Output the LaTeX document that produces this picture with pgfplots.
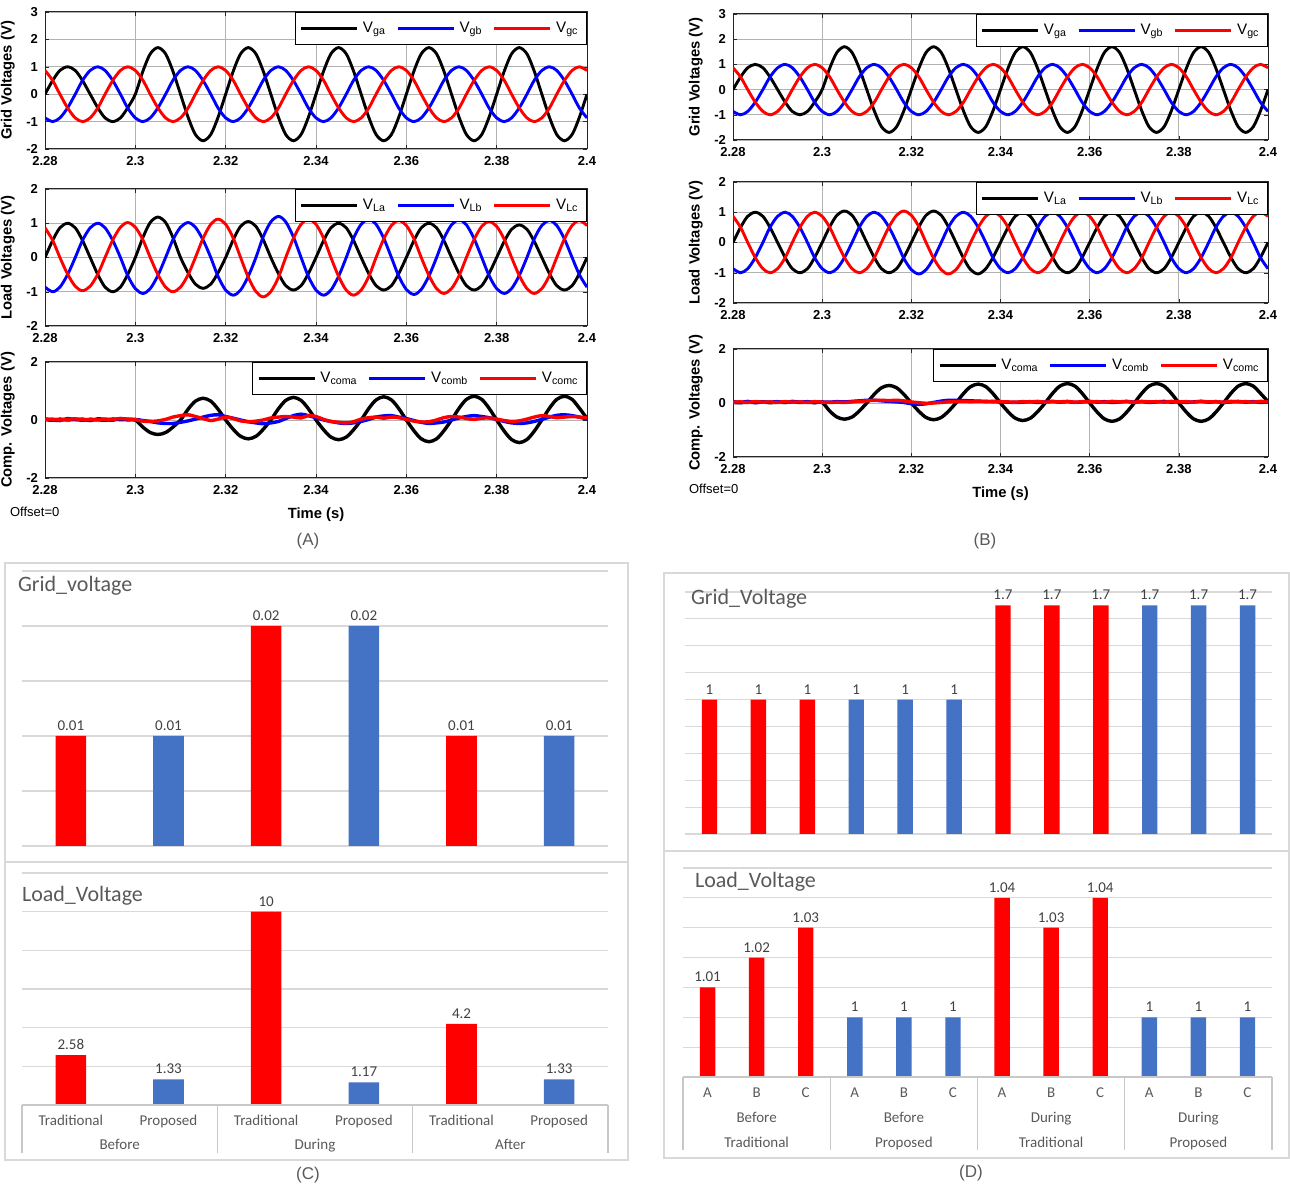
\documentclass[border=0pt]{standalone}
\usepackage{fontspec}
\setmainfont{Liberation Sans}
\newfontfamily\calib{Carlito}
\usepackage{pgfplots}
\usepackage{pgfplotstable}
\pgfplotsset{compat=1.18}
\usetikzlibrary{calc}

\definecolor{xlblue}{RGB}{68,114,196}
\definecolor{xlgray}{RGB}{89,89,89}
\definecolor{xlgrid}{RGB}{217,217,217}
\definecolor{xlline}{RGB}{200,200,200}
\definecolor{mblue}{RGB}{0,0,255}
\definecolor{mred}{RGB}{255,0,0}

\pgfplotstableread{
t a b c
2.2800 0 -0.866 0.866
2.2817 0.5 -1 0.5
2.2833 0.866 -0.866 0
2.2850 1 -0.5 -0.5
2.2867 0.866 0 -0.866
2.2883 0.5 0.5 -1
2.2900 0 0.866 -0.866
2.2917 -0.5 1 -0.5
2.2933 -0.866 0.866 0
2.2950 -1 0.5 0.5
2.2967 -0.866 0 0.866
2.2983 -0.5 -0.5 1
2.3000 0 -0.866 0.866
2.3017 0.85 -1 0.5
2.3033 1.472 -0.866 0
2.3050 1.7 -0.5 -0.5
2.3067 1.472 0 -0.866
2.3083 0.85 0.5 -1
2.3100 0 0.866 -0.866
2.3117 -0.85 1 -0.5
2.3133 -1.472 0.866 0
2.3150 -1.7 0.5 0.5
2.3167 -1.472 0 0.866
2.3183 -0.85 -0.5 1
2.3200 0 -0.866 0.866
2.3217 0.85 -1 0.5
2.3233 1.472 -0.866 0
2.3250 1.7 -0.5 -0.5
2.3267 1.472 0 -0.866
2.3283 0.85 0.5 -1
2.3300 0 0.866 -0.866
2.3317 -0.85 1 -0.5
2.3333 -1.472 0.866 0
2.3350 -1.7 0.5 0.5
2.3367 -1.472 0 0.866
2.3383 -0.85 -0.5 1
2.3400 0 -0.866 0.866
2.3417 0.85 -1 0.5
2.3433 1.472 -0.866 0
2.3450 1.7 -0.5 -0.5
2.3467 1.472 0 -0.866
2.3483 0.85 0.5 -1
2.3500 0 0.866 -0.866
2.3517 -0.85 1 -0.5
2.3533 -1.472 0.866 0
2.3550 -1.7 0.5 0.5
2.3567 -1.472 0 0.866
2.3583 -0.85 -0.5 1
2.3600 0 -0.866 0.866
2.3617 0.85 -1 0.5
2.3633 1.472 -0.866 0
2.3650 1.7 -0.5 -0.5
2.3667 1.472 0 -0.866
2.3683 0.85 0.5 -1
2.3700 0 0.866 -0.866
2.3717 -0.85 1 -0.5
2.3733 -1.472 0.866 0
2.3750 -1.7 0.5 0.5
2.3767 -1.472 0 0.866
2.3783 -0.85 -0.5 1
2.3800 0 -0.866 0.866
2.3817 0.85 -1 0.5
2.3833 1.472 -0.866 0
2.3850 1.7 -0.5 -0.5
2.3867 1.472 0 -0.866
2.3883 0.85 0.5 -1
2.3900 0 0.866 -0.866
2.3917 -0.85 1 -0.5
2.3933 -1.472 0.866 0
2.3950 -1.7 0.5 0.5
2.3967 -1.472 0 0.866
2.3983 -0.85 -0.5 1
2.4000 0 -0.866 0.866
}\gridtab

\pgfplotstableread{
t a b c
2.2800 0 -0.866 0.866
2.2817 0.5 -1 0.5
2.2833 0.866 -0.866 0
2.2850 1 -0.5 -0.485
2.2867 0.866 0 -0.84
2.2883 0.5 0.5 -0.97
2.2900 0 0.866 -0.84
2.2917 -0.5 1 -0.485
2.2933 -0.866 0.866 0
2.2950 -1 0.5 0.51
2.2967 -0.866 0 0.883
2.2983 -0.5 -0.525 1.02
2.3000 0 -0.909 0.883
2.3017 0.59 -1.05 0.51
2.3033 1.022 -0.909 0
2.3050 1.18 -0.525 -0.5
2.3067 1.022 0 -0.866
2.3083 0.59 0.51 -1
2.3100 0 0.883 -0.866
2.3117 -0.45 1.02 -0.5
2.3133 -0.779 0.883 0
2.3150 -0.9 0.51 0.56
2.3167 -0.779 0 0.97
2.3183 -0.45 -0.55 1.12
2.3200 0 -0.953 0.97
2.3217 0.525 -1.1 0.56
2.3233 0.909 -0.953 0
2.3250 1.05 -0.55 -0.575
2.3267 0.909 0 -0.996
2.3283 0.525 0.6 -1.15
2.3300 0 1.039 -0.996
2.3317 -0.475 1.2 -0.575
2.3333 -0.823 1.039 0
2.3350 -0.95 0.6 0.56
2.3367 -0.823 0 0.97
2.3383 -0.475 -0.55 1.12
2.3400 0 -0.953 0.97
2.3417 0.5 -1.1 0.56
2.3433 0.866 -0.953 0
2.3450 1 -0.55 -0.55
2.3467 0.866 0 -0.953
2.3483 0.5 0.56 -1.1
2.3500 0 0.97 -0.953
2.3517 -0.475 1.12 -0.55
2.3533 -0.823 0.97 0
2.3550 -0.95 0.56 0.54
2.3567 -0.823 0 0.935
2.3583 -0.475 -0.54 1.08
2.3600 0 -0.935 0.935
2.3617 0.5 -1.08 0.54
2.3633 0.866 -0.935 0
2.3650 1 -0.54 -0.525
2.3667 0.866 0 -0.909
2.3683 0.5 0.55 -1.05
2.3700 0 0.953 -0.909
2.3717 -0.475 1.1 -0.525
2.3733 -0.823 0.953 0
2.3750 -0.95 0.55 0.525
2.3767 -0.823 0 0.909
2.3783 -0.475 -0.525 1.05
2.3800 0 -0.909 0.909
2.3817 0.475 -1.05 0.525
2.3833 0.823 -0.909 0
2.3850 0.95 -0.525 -0.525
2.3867 0.823 0 -0.909
2.3883 0.475 0.54 -1.05
2.3900 0 0.935 -0.909
2.3917 -0.475 1.08 -0.525
2.3933 -0.823 0.935 0
2.3950 -0.95 0.54 0.54
2.3967 -0.823 0 0.935
2.3983 -0.475 -0.5 1.08
2.4000 0 -0.866 0.935
}\loadAtab

\pgfplotstableread{
t a b c
2.2800 0 -0.866 0.866
2.2817 0.5 -1 0.5
2.2833 0.866 -0.866 0
2.2850 1 -0.5 -0.5
2.2867 0.866 0 -0.866
2.2883 0.5 0.5 -1
2.2900 0 0.866 -0.866
2.2917 -0.5 1 -0.5
2.2933 -0.866 0.866 0
2.2950 -1 0.5 0.5
2.2967 -0.866 0 0.866
2.2983 -0.5 -0.5 1
2.3000 0 -0.866 0.866
2.3017 0.52 -1 0.5
2.3033 0.9 -0.866 0
2.3050 1.04 -0.5 -0.5
2.3067 0.9 0 -0.866
2.3083 0.52 0.5 -1
2.3100 0 0.866 -0.866
2.3117 -0.5 1 -0.5
2.3133 -0.866 0.866 0
2.3150 -1 0.5 0.52
2.3167 -0.866 0 0.9
2.3183 -0.5 -0.52 1.04
2.3200 0 -0.9 0.9
2.3217 0.52 -1.04 0.52
2.3233 0.9 -0.9 0
2.3250 1.04 -0.52 -0.52
2.3267 0.9 0 -0.9
2.3283 0.52 0.5 -1.04
2.3300 0 0.866 -0.9
2.3317 -0.52 1 -0.52
2.3333 -0.9 0.866 0
2.3350 -1.04 0.5 0.5
2.3367 -0.866 0 0.866
2.3383 -0.5 -0.5 1
2.3400 0 -0.866 0.866
2.3417 0.5 -1 0.5
2.3433 0.866 -0.866 0
2.3450 1 -0.5 -0.5
2.3467 0.866 0 -0.866
2.3483 0.5 0.5 -1
2.3500 0 0.866 -0.866
2.3517 -0.5 1 -0.5
2.3533 -0.866 0.866 0
2.3550 -1 0.5 0.5
2.3567 -0.866 0 0.866
2.3583 -0.5 -0.5 1
2.3600 0 -0.866 0.866
2.3617 0.5 -1 0.5
2.3633 0.866 -0.866 0
2.3650 1 -0.5 -0.5
2.3667 0.866 0 -0.866
2.3683 0.5 0.5 -1
2.3700 0 0.866 -0.866
2.3717 -0.5 1 -0.5
2.3733 -0.866 0.866 0
2.3750 -1 0.5 0.5
2.3767 -0.866 0 0.866
2.3783 -0.5 -0.5 1
2.3800 0 -0.866 0.866
2.3817 0.5 -1 0.5
2.3833 0.866 -0.866 0
2.3850 1 -0.5 -0.5
2.3867 0.866 0 -0.866
2.3883 0.5 0.5 -1
2.3900 0 0.866 -0.866
2.3917 -0.5 1 -0.5
2.3933 -0.866 0.866 0
2.3950 -1 0.5 0.5
2.3967 -0.866 0 0.866
2.3983 -0.5 -0.5 1
2.4000 0 -0.866 0.866
}\loadBtab

\pgfplotstableread{
t a b c
2.2800 0.02 0.04 0.01
2.2817 -0.01 0 0.03
2.2833 0.03 -0.02 0
2.2850 0 0.05 0.02
2.2867 0.02 0.01 0.04
2.2883 -0.01 0.03 0.01
2.2900 0.02 -0.02 0.02
2.2917 0.01 0.04 0
2.2933 -0.01 0.02 0.03
2.2950 0.03 -0.01 0.02
2.2967 0.01 0.05 0.05
2.2983 0.02 0 0.03
2.3000 0 0.02 0.01
2.3017 -0.25 -0.02 -0.04
2.3033 -0.433 -0.05 -0.05
2.3050 -0.5 -0.1 -0.03
2.3067 -0.433 -0.12 0.02
2.3083 -0.25 -0.12 0.1
2.3100 0 -0.08 0.15
2.3117 0.375 -0.03 0.18
2.3133 0.65 0.03 0.12
2.3150 0.75 0.1 0.05
2.3167 0.65 0.16 -0.02
2.3183 0.375 0.18 0.03
2.3200 0 0.12 0.1
2.3217 -0.325 0.06 0.05
2.3233 -0.563 0 -0.03
2.3250 -0.65 -0.06 -0.06
2.3267 -0.563 -0.1 -0.04
2.3283 -0.325 -0.13 0
2.3300 0 -0.1 0.07
2.3317 0.39 -0.05 0.1
2.3333 0.675 0.05 0.12
2.3350 0.78 0.15 0.1
2.3367 0.675 0.2 0.07
2.3383 0.39 0.15 0.15
2.3400 0 0.08 0.12
2.3417 -0.34 0 0.02
2.3433 -0.589 -0.05 -0.05
2.3450 -0.68 -0.1 -0.08
2.3467 -0.589 -0.12 -0.1
2.3483 -0.34 -0.1 -0.06
2.3500 0 -0.05 0.03
2.3517 0.4 0.02 0.08
2.3533 0.693 0.1 0.1
2.3550 0.8 0.14 0.06
2.3567 0.693 0.15 0.1
2.3583 0.4 0.1 0.08
2.3600 0 0.05 0.02
2.3617 -0.375 -0.02 -0.04
2.3633 -0.65 -0.08 -0.07
2.3650 -0.75 -0.12 -0.06
2.3667 -0.65 -0.1 0
2.3683 -0.375 -0.07 0.08
2.3700 0 0 0.12
2.3717 0.41 0.07 0.1
2.3733 0.71 0.12 0.05
2.3750 0.82 0.15 0.02
2.3767 0.71 0.12 0.06
2.3783 0.41 0.08 0.07
2.3800 0 0.02 0.03
2.3817 -0.39 -0.05 -0.02
2.3833 -0.675 -0.1 -0.05
2.3850 -0.78 -0.12 -0.03
2.3867 -0.675 -0.1 0.03
2.3883 -0.39 -0.05 0.1
2.3900 0 0.02 0.15
2.3917 0.41 0.1 0.12
2.3933 0.71 0.16 0.08
2.3950 0.82 0.18 0.1
2.3967 0.71 0.15 0.12
2.3983 0.41 0.1 0.1
2.4000 0.05 0.03 0.08
}\compAtab

\pgfplotstableread{
t a b c
2.2800 0.02 0.05 0.03
2.2817 0.01 0.02 0.04
2.2833 0.03 0.06 0.02
2.2850 0.02 0.01 0.05
2.2867 0.04 0.04 0.03
2.2883 0.01 0.03 0.04
2.2900 0.03 0.05 0.02
2.2917 0.02 0.02 0.05
2.2933 0.04 0.06 0.03
2.2950 0.02 0.03 0.04
2.2967 0.03 0.05 0.02
2.2983 0.01 0.02 0.05
2.3000 0.02 0.04 0.03
2.3017 -0.3 0.03 0.02
2.3033 -0.52 0.05 0.03
2.3050 -0.6 0.04 0.02
2.3067 -0.52 0.06 0.04
2.3083 -0.3 0.08 0.06
2.3100 0 0.1 0.08
2.3117 0.325 0.1 0.1
2.3133 0.563 0.08 0.1
2.3150 0.65 0.06 0.09
2.3167 0.563 0.04 0.1
2.3183 0.325 0.02 0.08
2.3200 0 -0.03 0.04
2.3217 -0.31 -0.05 0.01
2.3233 -0.537 -0.03 -0.01
2.3250 -0.62 0.02 0
2.3267 -0.537 0.07 0.02
2.3283 -0.31 0.1 0.04
2.3300 0 0.1 0.05
2.3317 0.35 0.09 0.06
2.3333 0.606 0.08 0.05
2.3350 0.7 0.07 0.06
2.3367 0.606 0.06 0.05
2.3383 0.35 0.05 0.06
2.3400 0 0.04 0.05
2.3417 -0.325 0.03 0.04
2.3433 -0.563 0.02 0.03
2.3450 -0.65 0.03 0.05
2.3467 -0.563 0.05 0.04
2.3483 -0.325 0.02 0.06
2.3500 0 0.04 0.03
2.3517 0.36 0.06 0.05
2.3533 0.624 0.03 0.04
2.3550 0.72 0.05 0.06
2.3567 0.624 0.02 0.03
2.3583 0.36 0.04 0.05
2.3600 0 0.06 0.04
2.3617 -0.34 0.03 0.05
2.3633 -0.589 0.05 0.03
2.3650 -0.68 0.02 0.06
2.3667 -0.589 0.04 0.04
2.3683 -0.34 0.06 0.05
2.3700 0 0.03 0.03
2.3717 0.36 0.05 0.06
2.3733 0.624 0.02 0.04
2.3750 0.72 0.04 0.05
2.3767 0.624 0.06 0.03
2.3783 0.36 0.03 0.06
2.3800 0 0.05 0.04
2.3817 -0.34 0.02 0.05
2.3833 -0.589 0.04 0.03
2.3850 -0.68 0.06 0.06
2.3867 -0.589 0.03 0.04
2.3883 -0.34 0.05 0.05
2.3900 0 0.02 0.03
2.3917 0.36 0.04 0.06
2.3933 0.624 0.06 0.04
2.3950 0.72 0.03 0.05
2.3967 0.624 0.05 0.03
2.3983 0.36 0.02 0.06
2.4000 0.05 0.04 0.04
}\compBtab

\tikzset{grp/.style={font=\calib\fontsize{7.5}{9}\selectfont, text=xlgray, anchor=base, inner sep=0pt}}

\pgfplotsset{
  matax/.style={
    scale only axis, anchor=south west,
    xmin=2.28, xmax=2.4,
    xtick={2.28,2.3,2.32,2.34,2.36,2.38,2.4},
    grid=major, grid style={black!30, line width=0.45pt},
    axis line style={black!85, line width=0.5pt},
    tick align=inside, major tick length=2pt, tick style={black!85},
    /pgf/number format/assume math mode=true,
    ticklabel style={font=\fontsize{6.5}{7}\selectfont\bfseries},
    label style={font=\fontsize{7.4}{8}\selectfont\bfseries},
    ylabel style={yshift=-1pt},
    legend columns=3,
    legend style={at={(1,1)}, anchor=north east, draw=black, line width=0.5pt,
      fill=white, font=\fontsize{7.6}{9}\selectfont, inner xsep=2pt, inner ysep=2.6pt,
      /tikz/every even column/.append style={column sep=3pt}},
    legend image code/.code={\draw[##1, line width=1.8pt] (0pt,0pt) -- (28pt,0pt);},
    every axis plot/.append style={line width=1.45pt, no markers, smooth},
  },
  xlax/.style={
    scale only axis, anchor=south west,
    ybar, bar shift=0pt, scaled ticks=false,
    axis line style={draw=none}, major tick length=0pt,
    ymajorgrids, grid style={xlgrid, line width=0.6pt},
    yticklabel=\empty,
    nodes near coords, point meta=explicit symbolic,
    nodes near coords style={font=\calib\fontsize{7.5}{9}\selectfont, text=black!75, inner sep=2.5pt},
    xticklabel style={font=\calib\fontsize{7.5}{9}\selectfont, text=xlgray, anchor=base, yshift=-10.5pt},
  },
}

\begin{document}
\begin{tikzpicture}
\useasboundingbox (0,0) rectangle (645pt,594pt);

% ---------------- Panel A ----------------
\begin{axis}[matax, at={(22.5pt,519.5pt)}, width=271pt, height=68.5pt,
  ymin=-2, ymax=3, ytick={-2,-1,0,1,2,3}, ylabel={Grid Voltages (V)}]
\addplot[black] table[x=t,y=a]{\gridtab};
\addplot[mblue] table[x=t,y=b]{\gridtab};
\addplot[mred] table[x=t,y=c]{\gridtab};
\legend{V\textsubscript{ga},V\textsubscript{gb},V\textsubscript{gc}}
\end{axis}

\begin{axis}[matax, at={(22.5pt,431pt)}, width=271pt, height=68.5pt,
  ymin=-2, ymax=2, ytick={-2,-1,0,1,2}, ylabel={Load Voltages (V)}]
\addplot[black] table[x=t,y=a]{\loadAtab};
\addplot[mblue] table[x=t,y=b]{\loadAtab};
\addplot[mred] table[x=t,y=c]{\loadAtab};
\legend{V\textsubscript{La},V\textsubscript{Lb},V\textsubscript{Lc}}
\end{axis}

\begin{axis}[matax, at={(22.5pt,355pt)}, width=271pt, height=58pt,
  ymin=-2, ymax=2, ytick={-2,0,2}, ylabel={Comp. Voltages (V)}, xlabel={Time (s)},
  every axis plot/.append style={line width=1.7pt}]
\addplot[black] table[x=t,y=a]{\compAtab};
\addplot[mblue] table[x=t,y=b]{\compAtab};
\addplot[mred] table[x=t,y=c]{\compAtab};
\legend{V\textsubscript{coma},V\textsubscript{comb},V\textsubscript{comc}}
\end{axis}
\node[anchor=west, font=\fontsize{6.5}{8}\selectfont] at (1.5pt,338pt) {Offset=0};
\node[font=\fontsize{8.5}{10}\selectfont, text=black!65] at (154pt,323.5pt) {(A)};

% ---------------- Panel B ----------------
\begin{axis}[matax, at={(366.5pt,524pt)}, width=267.5pt, height=63pt,
  ymin=-2, ymax=3, ytick={-2,-1,0,1,2,3}, ylabel={Grid Voltages (V)}]
\addplot[black] table[x=t,y=a]{\gridtab};
\addplot[mblue] table[x=t,y=b]{\gridtab};
\addplot[mred] table[x=t,y=c]{\gridtab};
\legend{V\textsubscript{ga},V\textsubscript{gb},V\textsubscript{gc}}
\end{axis}

\begin{axis}[matax, at={(366.5pt,442.5pt)}, width=267.5pt, height=60.5pt,
  ymin=-2, ymax=2, ytick={-2,-1,0,1,2}, ylabel={Load Voltages (V)}]
\addplot[black] table[x=t,y=a]{\loadBtab};
\addplot[mblue] table[x=t,y=b]{\loadBtab};
\addplot[mred] table[x=t,y=c]{\loadBtab};
\legend{V\textsubscript{La},V\textsubscript{Lb},V\textsubscript{Lc}}
\end{axis}

\begin{axis}[matax, at={(366.5pt,365.5pt)}, width=267.5pt, height=54pt,
  ymin=-2, ymax=2, ytick={-2,0,2}, ylabel={Comp. Voltages (V)}, xlabel={Time (s)},
  every axis plot/.append style={line width=1.7pt}]
\addplot[black] table[x=t,y=a]{\compBtab};
\addplot[mblue] table[x=t,y=b]{\compBtab};
\addplot[mred] table[x=t,y=c]{\compBtab};
\legend{V\textsubscript{coma},V\textsubscript{comb},V\textsubscript{comc}}
\end{axis}
\node[anchor=west, font=\fontsize{6.5}{8}\selectfont] at (341pt,349.5pt) {Offset=0};
\node[font=\fontsize{8.5}{10}\selectfont, text=black!65] at (492.5pt,323.5pt) {(B)};

% ---------------- Panel C ----------------
\draw[xlgrid, line width=0.6pt] (2.5pt,163pt) rectangle (314pt,312.5pt);
\draw[xlgrid, line width=0.6pt] (2.5pt,14pt) rectangle (314pt,163pt);

\begin{axis}[xlax, at={(11pt,171pt)}, width=293pt, height=137.5pt,
  xmin=-0.5, xmax=5.5, ymin=0, ymax=0.025, ytick={0,0.005,0.01,0.015,0.02,0.025},
  xtick=\empty, bar width=15.3pt, clip=false]
\addplot[fill=mred, draw=none] coordinates {(0,0.01)[0.01] (2,0.02)[0.02] (4,0.01)[0.01]};
\addplot[fill=xlblue, draw=none] coordinates {(1,0.01)[0.01] (3,0.02)[0.02] (5,0.01)[0.01]};
\end{axis}
\node[anchor=west, font=\calib\fontsize{11}{13}\selectfont, text=xlgray] at (5.5pt,301pt) {Grid\_voltage};

\begin{axis}[xlax, at={(11pt,41.5pt)}, width=293pt, height=116pt,
  xmin=-0.5, xmax=5.5, ymin=0, ymax=12, ytick={0,2,4,6,8,10,12},
  xtick={0,1,2,3,4,5},
  xticklabels={Traditional,Proposed,Traditional,Proposed,Traditional,Proposed},
  bar width=15.3pt, clip=false]
\addplot[fill=mred, draw=none] coordinates {(0,2.58)[2.58] (2,10)[10] (4,4.2)[4.2]};
\addplot[fill=xlblue, draw=none] coordinates {(1,1.33)[1.33] (3,1.17)[1.17] (5,1.33)[1.33]};
\draw[xlline, line width=0.6pt] (axis cs:-0.5,0) -- (axis cs:5.5,0);
\pgfplotsinvokeforeach{-0.5,1.5,3.5,5.5}{\draw[xlline, line width=0.6pt] (axis cs:#1,0) -- ++(0pt,-24pt);}
\node[grp] at ([yshift=-22.5pt]axis cs:0.5,0) {Before};
\node[grp] at ([yshift=-22.5pt]axis cs:2.5,0) {During};
\node[grp] at ([yshift=-22.5pt]axis cs:4.5,0) {After};
\end{axis}
\node[anchor=west, font=\calib\fontsize{11}{13}\selectfont, text=xlgray] at (7.5pt,146pt) {Load\_Voltage};
\node[font=\fontsize{8.5}{10}\selectfont, text=black!65] at (154pt,6.5pt) {(C)};

% ---------------- Panel D ----------------
\draw[xlgrid, line width=0.6pt] (332pt,168.5pt) rectangle (644.5pt,307.5pt);
\draw[xlgrid, line width=0.6pt] (332pt,15pt) rectangle (644.5pt,168.5pt);

\begin{axis}[xlax, at={(342.5pt,177pt)}, width=293.5pt, height=121pt,
  xmin=-0.5, xmax=11.5, ymin=0, ymax=1.8, ytick={0,0.2,0.4,0.6,0.8,1,1.2,1.4,1.6,1.8},
  xtick=\empty, bar width=7.7pt, clip=false]
\addplot[fill=mred, draw=none] coordinates {(0,1)[1] (1,1)[1] (2,1)[1] (6,1.7)[1.7] (7,1.7)[1.7] (8,1.7)[1.7]};
\addplot[fill=xlblue, draw=none] coordinates {(3,1)[1] (4,1)[1] (5,1)[1] (9,1.7)[1.7] (10,1.7)[1.7] (11,1.7)[1.7]};
\end{axis}
\node[anchor=west, font=\calib\fontsize{11}{13}\selectfont, text=xlgray] at (342pt,294.5pt) {Grid\_Voltage};

\begin{axis}[xlax, at={(341.5pt,55.5pt)}, width=294.5pt, height=104.5pt,
  xmin=-0.5, xmax=11.5, ymin=0.98, ymax=1.05,
  ytick={0.98,0.99,1,1.01,1.02,1.03,1.04,1.05},
  xtick={0,1,2,3,4,5,6,7,8,9,10,11},
  xticklabels={A,B,C,A,B,C,A,B,C,A,B,C},
  bar width=7.7pt, clip mode=individual]
\addplot[fill=mred, draw=none] coordinates {(0,1.01)[1.01] (1,1.02)[1.02] (2,1.03)[1.03] (6,1.04)[1.04] (7,1.03)[1.03] (8,1.04)[1.04]};
\addplot[fill=xlblue, draw=none] coordinates {(3,1)[1] (4,1)[1] (5,1)[1] (9,1)[1] (10,1)[1] (11,1)[1]};
\draw[xlline, line width=0.6pt] (axis cs:-0.5,0.98) -- (axis cs:11.5,0.98);
\pgfplotsinvokeforeach{-0.5,2.5,5.5,8.5,11.5}{\draw[xlline, line width=0.6pt] (axis cs:#1,0.98) -- ++(0pt,-36.5pt);}
\node[grp] at ([yshift=-23pt]axis cs:1,0.98) {Before};
\node[grp] at ([yshift=-35.5pt]axis cs:1,0.98) {Traditional};
\node[grp] at ([yshift=-23pt]axis cs:4,0.98) {Before};
\node[grp] at ([yshift=-35.5pt]axis cs:4,0.98) {Proposed};
\node[grp] at ([yshift=-23pt]axis cs:7,0.98) {During};
\node[grp] at ([yshift=-35.5pt]axis cs:7,0.98) {Traditional};
\node[grp] at ([yshift=-23pt]axis cs:10,0.98) {During};
\node[grp] at ([yshift=-35.5pt]axis cs:10,0.98) {Proposed};
\end{axis}
\node[anchor=west, font=\calib\fontsize{11}{13}\selectfont, text=xlgray] at (344pt,153pt) {Load\_Voltage};
\node[font=\fontsize{8.5}{10}\selectfont, text=black!65] at (485.5pt,7.5pt) {(D)};
\end{tikzpicture}
\end{document}
